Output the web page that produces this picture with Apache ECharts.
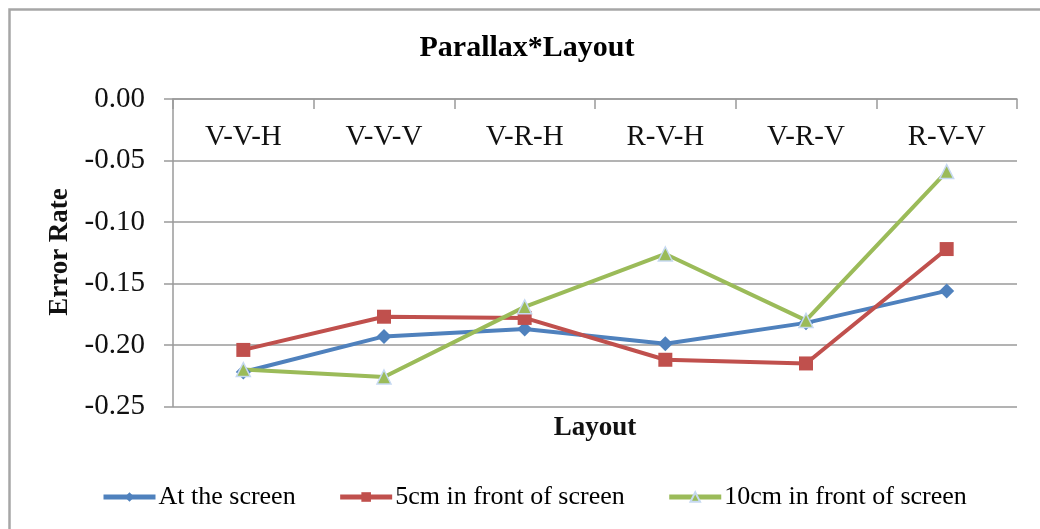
<!DOCTYPE html>
<html>
<head>
<meta charset="utf-8">
<script src="https://cdn.jsdelivr.net/npm/echarts@6/dist/echarts.min.js"></script>
<style>html,body{margin:0;padding:0;background:#fff;}#c{width:1040px;height:529px;}</style>
</head>
<body>
<div id="c"></div>
<script>
const categories = ['V-V-H', 'V-V-V', 'V-R-H', 'R-V-H', 'V-R-V', 'R-V-V'];
const seriesNames = ['At the screen', '5cm in front of screen', '10cm in front of screen'];
const atScreen = [-0.222, -0.193, -0.187, -0.199, -0.182, -0.156];
const cm5 = [-0.204, -0.177, -0.178, -0.212, -0.215, -0.122];
const cm10 = [-0.220, -0.226, -0.169, -0.126, -0.180, -0.059];
const yMin = -0.25, yMax = 0, yStep = 0.05;

const FONT = '"Liberation Serif", "Times New Roman", serif';
const chart = echarts.init(document.getElementById('c'), null, {renderer: 'canvas'});
chart.setOption({
  backgroundColor: '#fff',
  animation: false,
  grid: {left: 173, right: 23, top: 99, bottom: 122.5, containLabel: false},
  graphic: [
    {type: 'rect', shape: {x: 9.5, y: 9.5, width: 1100, height: 600},
     style: {fill: 'none', stroke: '#a6a6a6', lineWidth: 2.5}, silent: true},
    {type: 'text', x: 527, y: 48, style: {text: 'Parallax*Layout', font: 'bold 30px ' + FONT,
      fill: '#000', textAlign: 'center', textVerticalAlign: 'middle'}},
    {type: 'text', x: 60, y: 252, rotation: Math.PI / 2, style: {text: 'Error Rate', font: 'bold 27px ' + FONT,
      fill: '#111', textAlign: 'center', textVerticalAlign: 'middle'}},
    {type: 'text', x: 595, y: 428, style: {text: 'Layout', font: 'bold 27px ' + FONT,
      fill: '#111', textAlign: 'center', textVerticalAlign: 'middle'}}
  ],
  legend: {
    left: 101, top: 484, padding: 0, itemWidth: 52, itemHeight: 12, itemGap: 42,
    lineStyle: {width: 5},
    textStyle: {fontFamily: FONT, fontSize: 26, color: '#000', padding: [0, 0, 0, -2]},
    data: seriesNames
  },
  xAxis: {
    type: 'category', position: 'top', data: categories, boundaryGap: true,
    axisLine: {show: true, lineStyle: {color: '#9a9a9a', width: 1.5}},
    axisTick: {show: true, inside: true, length: 10, lineStyle: {color: '#9a9a9a', width: 1.5}},
    axisLabel: {inside: true, margin: 24, fontFamily: FONT, fontSize: 29, color: '#111'},
    splitLine: {show: false}
  },
  yAxis: {
    type: 'value', min: yMin, max: yMax, interval: yStep,
    axisLine: {show: true, lineStyle: {color: '#9a9a9a', width: 1.5}},
    axisTick: {show: true, inside: false, length: 9, lineStyle: {color: '#9a9a9a', width: 1.5}},
    axisLabel: {margin: 28, fontFamily: FONT, fontSize: 29, color: '#111',
      formatter: v => (Math.abs(v) < 1e-9 ? 0 : v).toFixed(2)},
    splitLine: {show: true, lineStyle: {color: '#9a9a9a', width: 1.5}}
  },
  series: [
    {name: seriesNames[0], type: 'line', data: atScreen, symbol: 'diamond', symbolSize: 15,
     lineStyle: {color: '#4F81BD', width: 4}, itemStyle: {color: '#4F81BD'}},
    {name: seriesNames[1], type: 'line', data: cm5, symbol: 'rect', symbolSize: 14,
     lineStyle: {color: '#C0504D', width: 4}, itemStyle: {color: '#C0504D'}},
    {name: seriesNames[2], type: 'line', data: cm10, symbol: 'triangle', symbolSize: 14,
     lineStyle: {color: '#9BBB59', width: 4}, itemStyle: {color: '#9BBB59', borderColor: '#c6d9f1', borderWidth: 1.5}}
  ]
});
</script>
</body>
</html>
